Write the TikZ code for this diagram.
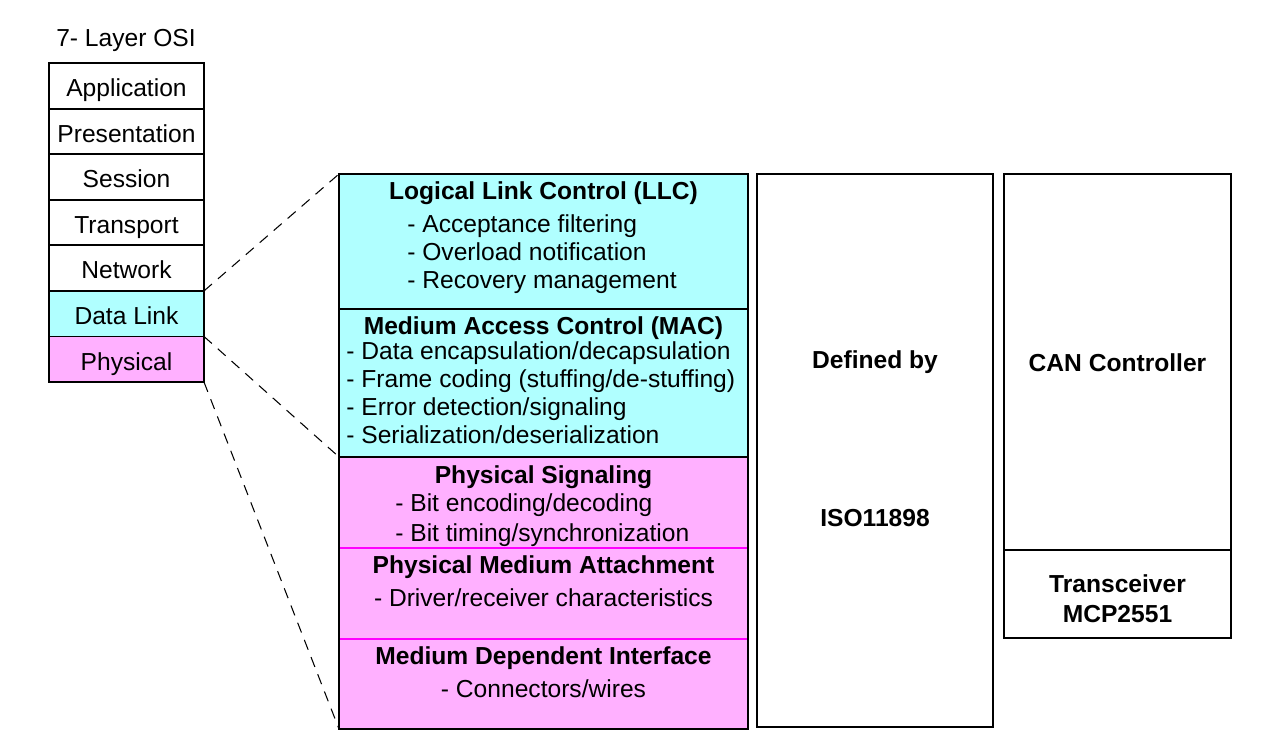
\documentclass[tikz,border=0pt]{standalone}
\usepackage{fontspec}
\setmainfont{Liberation Sans}
\usetikzlibrary{positioning,chains}
\definecolor{linkcyan}{HTML}{B0FFFF}
\definecolor{physpink}{HTML}{FFB0FF}
\definecolor{divpink}{HTML}{FF00FF}

\begin{document}
\begin{tikzpicture}[x=0.02cm, y=-0.02cm,
        node distance = 0mm,
        start chain = O going below,
        every node/.style = {font=\fontsize{14}{16}\selectfont, inner sep=0pt},
        layer/.style = {draw, line width=1.1pt, minimum width=3.1cm, minimum height=0.911cm,
                text height=13pt, text depth=0.7pt, outer sep=0pt, on chain=O},
        part/.style = {minimum width=8.18cm, anchor=north west, outer sep=0pt},
        box/.style = {draw, line width=1.1pt, anchor=north west, outer sep=0pt},
        ttl/.style = {font=\fontsize{14}{16}\selectfont\bfseries},
        items/.style = {align=left, anchor=west},
        zoomline/.style = {dash pattern=on 6pt off 4.5pt, line width=0.6pt},
    ]
    \useasboundingbox (0,0) rectangle (1278,753);

    % OSI stack
    \node (osi) at (126,40) {7- Layer OSI};
    \node[layer] at (126.5,86) {Application};
    \node[layer] {Presentation};
    \node[layer] {Session};
    \node[layer] {Transport};
    \node[layer] {Network};
    \node[layer, fill=linkcyan] {Data Link};
    \node[layer, fill=physpink] {Physical};

    % CAN layers
    \node[part, fill=linkcyan, draw, line width=1.1pt, minimum height=2.7cm] (llc) at (339,174) {};
    \node[part, fill=linkcyan, draw, line width=1.1pt, minimum height=2.96cm] (mac) at (339,309) {};
    \node[part, fill=physpink, minimum height=1.82cm] (psig) at (339,457) {};
    \node[part, fill=physpink, minimum height=1.82cm] (pma) at (339,548) {};
    \node[part, fill=physpink, minimum height=1.8cm] (mdi) at (339,639) {};
    \draw[divpink, line width=0.9pt] (psig.south west) -- (psig.south east);
    \draw[divpink, line width=0.9pt] (pma.south west) -- (pma.south east);
    \draw[line width=1.1pt] (psig.north west) rectangle (mdi.south east);

    \node[ttl] (llc-t) at (543.5,193) {Logical Link Control (LLC)};
    \node[items] (llc-i) at (407,254) {- Acceptance filtering\\- Overload notification\\- Recovery management};
    \node[ttl] (mac-t) at (543.5,328) {Medium Access Control (MAC)};
    \node[items] (mac-i) at (346,392.5) {- Data encapsulation/decapsulation\\- Frame coding (stuffing/de-stuffing)\\- Error detection/signaling\\- Serialization/deserialization};
    \node[ttl] (psig-t) at (543.5,477) {Physical Signaling};
    \node[items] (psig-i) at (395,520.5) {- Bit encoding/decoding\\[1pt]- Bit timing/synchronization};
    \node[ttl] (pma-t) at (543.5,567) {Physical Medium Attachment};
    \node (pma-i) at (543.5,598) {- Driver/receiver characteristics};
    \node[ttl] (mdi-t) at (543.5,658) {Medium Dependent Interface};
    \node (mdi-i) at (543.5,689) {- Connectors/wires};

    % standard and devices
    \node[box, minimum width=4.72cm, minimum height=11.06cm] (std) at (757,174) {};
    \node[ttl] (std-a) at (875,362) {Defined by};
    \node[ttl] (std-b) at (875,518) {ISO11898};
    \node[box, minimum width=4.54cm, minimum height=7.52cm] (ctrl) at (1004,174) {};
    \node[ttl] (ctrl-t) at (1117.5,363) {CAN Controller};
    \node[box, minimum width=4.54cm, minimum height=1.76cm] (xcvr) at (1004,550) {};
    \node[ttl, align=center] (xcvr-t) at (1117.5,599) {Transceiver\\[1pt]MCP2551};

    % zoom lines
    \draw[zoomline] (O-6.north east) -- (llc.north west);
    \draw[zoomline] (O-6.south east) -- (mac.south west);
    \draw[zoomline] (O-7.south east) -- (mdi.south west);
\end{tikzpicture}
\end{document}
